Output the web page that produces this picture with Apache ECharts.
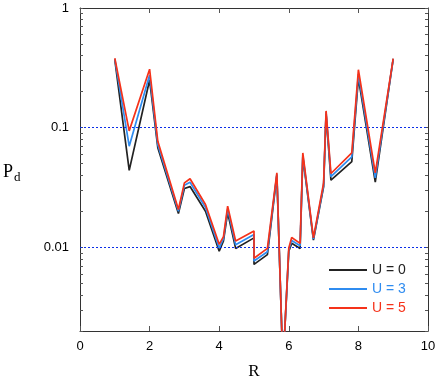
<!DOCTYPE html>
<html>
<head>
<meta charset="utf-8">
<script src="https://cdn.jsdelivr.net/npm/echarts@6/dist/echarts.min.js"></script>
<style>
html,body{margin:0;padding:0;background:#fff;}
#chart{width:436px;height:378px;}
</style>
</head>
<body>
<div id="chart"></div>
<script>
// Distances R (square-lattice shells)
const R = [1, 1.414, 2, 2.236, 2.828, 3, 3.162, 3.606, 4, 4.123, 4.243, 4.472, 5, 5, 5.385, 5.657, 5.831, 6, 6.083, 6.325, 6.403, 6.708, 7, 7.071, 7.211, 7.81, 8, 8.485, 9];
const U0 = [0.37, 0.044, 0.25, 0.068, 0.0192, 0.031, 0.0322, 0.020, 0.0093, 0.0113, 0.0195, 0.0098, 0.0120, 0.0072, 0.0087, 0.040, 0.001, 0.0093, 0.0108, 0.0098, 0.057, 0.0115, 0.032, 0.13, 0.0364, 0.052, 0.26, 0.035, 0.375];
const U3 = [0.375, 0.070, 0.275, 0.072, 0.020, 0.033, 0.035, 0.0215, 0.0099, 0.0118, 0.021, 0.0105, 0.0128, 0.0077, 0.0092, 0.041, 0.001, 0.0096, 0.0114, 0.0103, 0.059, 0.0117, 0.033, 0.135, 0.039, 0.057, 0.28, 0.038, 0.376];
const U5 = [0.38, 0.094, 0.308, 0.077, 0.0207, 0.0346, 0.0374, 0.0228, 0.0106, 0.0123, 0.0221, 0.0113, 0.0137, 0.0081, 0.0098, 0.042, 0.001, 0.0099, 0.0121, 0.0108, 0.0615, 0.012, 0.0346, 0.138, 0.0414, 0.0615, 0.305, 0.042, 0.378];
const seriesNames = ['U = 0', 'U = 3', 'U = 5'];
const colors = ['#222222', '#2f8cf0', '#f5321a'];
const yLabelValues = [0.01, 0.1, 1];
const yGridValues = [0.01, 0.1];
const yMinorTicks = [0.002,0.003,0.004,0.005,0.006,0.007,0.008,0.009,0.01,0.02,0.03,0.04,0.05,0.06,0.07,0.08,0.09,0.1,0.2,0.3,0.4,0.5,0.6,0.7,0.8,0.9,1];

const font = '"Liberation Sans", Arial, Helvetica, sans-serif';
const chart = echarts.init(document.getElementById('chart'), null, {renderer: 'canvas'});

function pairs(ys){ return R.map((x,i)=>[x, ys[i]]); }

const axisLineStyle = {color:'#333', width:1};
const yCommon = {
  type:'log', logBase:10, min:0.002, max:1,
  axisLine:{show:true, onZero:false, lineStyle:axisLineStyle},
  axisTick:{show:true, inside:true, length:3, customValues:yMinorTicks, lineStyle:{color:'#555'}},
  splitLine:{show:false}, minorTick:{show:false}
};

const option = {
  animation:false,
  backgroundColor:'#fff',
  grid:{left:80, right:8, top:8, bottom:47, containLabel:false, outerBoundsMode:'none'},
  xAxis:[
    {type:'value', min:0, max:10, interval:2, position:'bottom',
     name:'R', nameLocation:'middle', nameGap:32,
     nameTextStyle:{fontFamily:'"Liberation Serif", "Times New Roman", serif', fontSize:17, color:'#000'},
     axisLine:{show:true, onZero:false, lineStyle:axisLineStyle},
     axisTick:{show:true, inside:true, length:5, lineStyle:{color:'#555'}},
     axisLabel:{fontFamily:font, fontSize:13, color:'#000', margin:9},
     splitLine:{show:false}},
    {type:'value', min:0, max:10, interval:2, position:'top',
     axisLine:{show:true, onZero:false, lineStyle:axisLineStyle},
     axisTick:{show:true, inside:true, length:5, lineStyle:{color:'#555'}},
     axisLabel:{show:false}, splitLine:{show:false}}
  ],
  yAxis:[
    Object.assign({}, yCommon, {position:'left',
      axisLabel:{show:true, customValues:yLabelValues, fontFamily:font, fontSize:13, color:'#000', margin:11,
        formatter:function(v){ return v>=0.99 ? '1' : (v>=0.099 ? '0.1' : '0.01'); }}}),
    Object.assign({}, yCommon, {position:'right', axisLabel:{show:false}})
  ],
  legend:{
    orient:'vertical', left:329, top:262, itemWidth:38, itemHeight:2, itemGap:3, padding:0,
    icon:'rect',
    textStyle:{fontFamily:font, fontSize:14, lineHeight:16},
    data:seriesNames.map((n,i)=>({name:n, textStyle:{color:colors[i]}}))
  },
  graphic:[{
    type:'text', left:3, top:161,
    style:{
      text:'{p|P}{d|d}',
      rich:{
        p:{fontFamily:'"Liberation Serif", "Times New Roman", serif', fontSize:18, fill:'#000', lineHeight:22},
        d:{fontFamily:'"Liberation Serif", "Times New Roman", serif', fontSize:13, fill:'#000', lineHeight:22, padding:[10,0,0,1]}
      }
    }
  }],
  series:[U0,U3,U5].map((ys,i)=>({
    name:seriesNames[i], type:'line', xAxisIndex:0, yAxisIndex:0,
    data:pairs(ys), symbol:'none', clip:true,
    lineStyle:{color:colors[i], width:1.7}, itemStyle:{color:colors[i]},
    z: 3+i,
    markLine: i===0 ? {
      silent:true, symbol:'none', label:{show:false},
      lineStyle:{color:'#0b2ee8', type:[2,2], width:1},
      data: yGridValues.map(v=>({yAxis:v}))
    } : undefined
  }))
};
chart.setOption(option);
</script>
</body>
</html>
